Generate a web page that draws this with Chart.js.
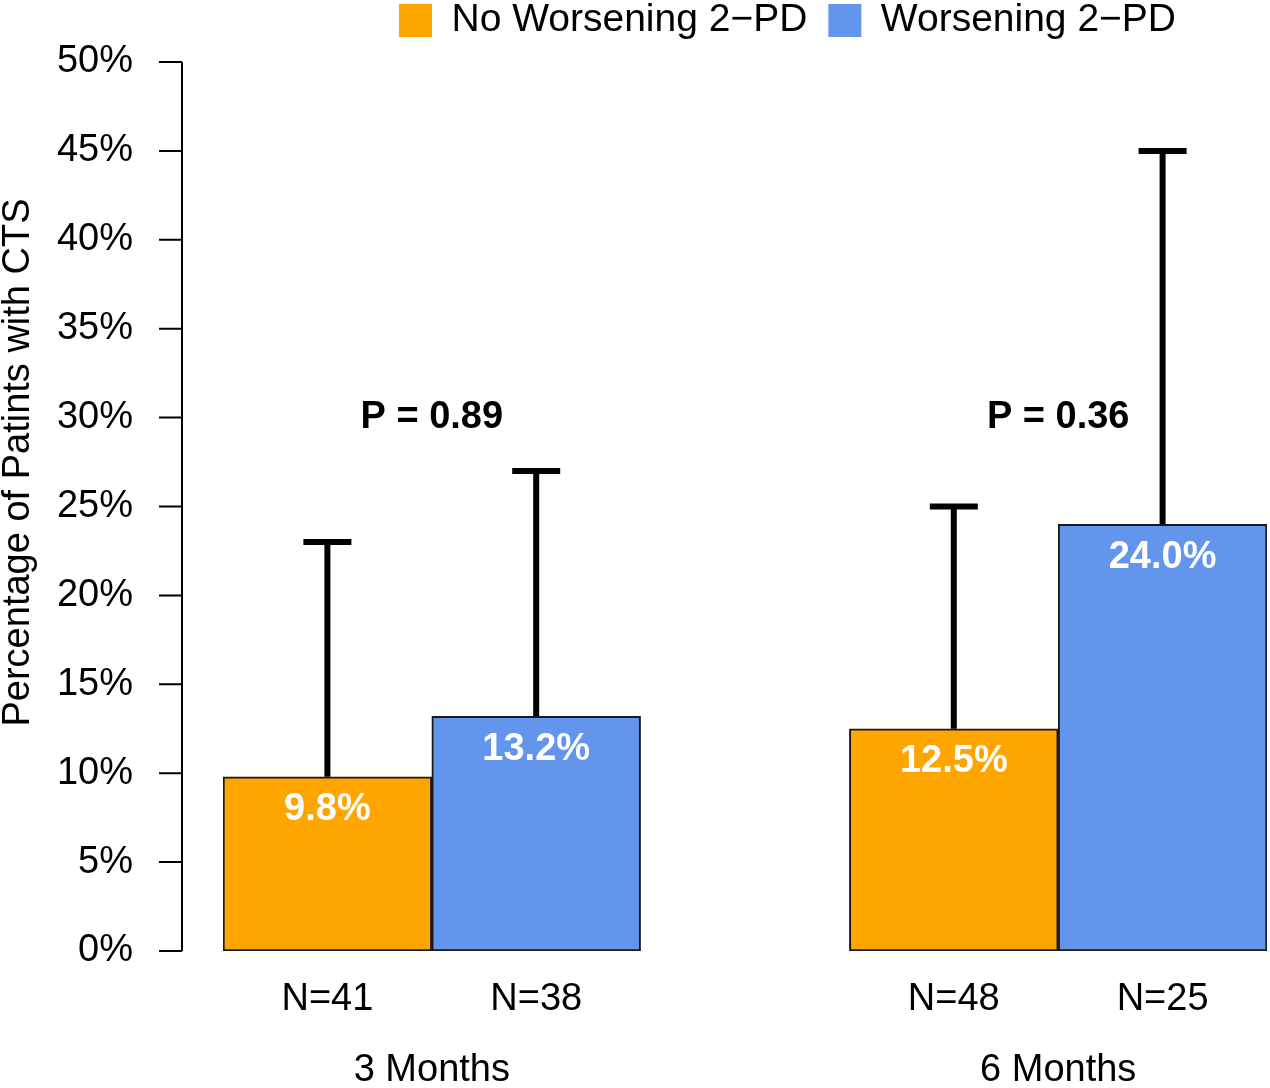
<!DOCTYPE html>
<html>
<head>
<meta charset="utf-8">
<script src="https://cdn.jsdelivr.net/npm/chart.js@4.4.1/dist/chart.umd.min.js"></script>
<style>
  html, body { margin: 0; padding: 0; background: #fff; }
  #wrap { width: 1270px; height: 1088px; }
</style>
</head>
<body>
<div id="wrap"><canvas id="ctsChart"></canvas></div>
<script>
const timepoints = ["3 Months", "6 Months"];
const nLabels = [["N=41", "N=38"], ["N=48", "N=25"]];
const noWorsening = [9.8, 12.5];
const worsening = [13.2, 24.0];
const noWorseningUpper = [23, 25];
const worseningUpper = [27, 45];
const pValues = ["P = 0.89", "P = 0.36"];
const pValueLevel = 30;
const yMax = 50;
const yStep = 5;

const FONT = '"Liberation Sans", Arial, Helvetica, sans-serif';
const ORANGE = "#FFA500";
const BLUE = "#6495ED";
const LEGEND_SHIFT_X = 154;
const LEGEND_SHIFT_Y = -12;

// five slots: two bars, an empty gap, two bars
const slotLabels = [];
const orangeData = [], blueData = [], orangeUpper = [], blueUpper = [];
const groupCenters = [];
timepoints.forEach((t, i) => {
    if (i > 0) {
        slotLabels.push("");
        orangeData.push(null); blueData.push(null);
        orangeUpper.push(null); blueUpper.push(null);
    }
    groupCenters.push(slotLabels.length + 0.5);
    slotLabels.push(nLabels[i][0], nLabels[i][1]);
    orangeData.push(noWorsening[i], null);
    blueData.push(null, worsening[i]);
    orangeUpper.push(noWorseningUpper[i], null);
    blueUpper.push(null, worseningUpper[i]);
});

Chart.defaults.font.family = FONT;
Chart.defaults.font.size = 38;
Chart.defaults.color = "#000";

const overlay = {
    id: "overlay",
    afterLayout(chart) {
        const lg = chart.legend;
        lg.left += LEGEND_SHIFT_X;
        lg.right += LEGEND_SHIFT_X;
        lg.top += LEGEND_SHIFT_Y;
        lg.bottom += LEGEND_SHIFT_Y;
    },
    afterDatasetsDraw(chart) {
        const { ctx, chartArea, scales: { y, x2 } } = chart;
        ctx.save();

        // error bars + value labels
        chart.data.datasets.forEach((ds, di) => {
            const meta = chart.getDatasetMeta(di);
            meta.data.forEach((bar, i) => {
                if (ds.data[i] == null) return;
                const top = y.getPixelForValue(ds.upper[i]);
                ctx.strokeStyle = "#000";
                ctx.lineWidth = 6;
                ctx.lineCap = "butt";
                ctx.beginPath();
                ctx.moveTo(bar.x, bar.y);
                ctx.lineTo(bar.x, top);
                ctx.moveTo(bar.x - 24, top);
                ctx.lineTo(bar.x + 24, top);
                ctx.stroke();

                ctx.fillStyle = "#fff";
                ctx.font = "bold 38px " + FONT;
                ctx.textAlign = "center";
                ctx.textBaseline = "middle";
                ctx.fillText(ds.data[i].toFixed(1) + "%", bar.x, bar.y + 33);
            });
        });

        // p values
        ctx.fillStyle = "#000";
        ctx.font = "bold 38px " + FONT;
        ctx.textAlign = "center";
        ctx.textBaseline = "middle";
        pValues.forEach((p, i) => {
            ctx.fillText(p, x2.getPixelForValue(groupCenters[i]), y.getPixelForValue(pValueLevel));
        });

        // y axis line and ticks, set off from the bars
        const ax = chartArea.left - 41;
        ctx.strokeStyle = "#000";
        ctx.lineWidth = 2;
        ctx.beginPath();
        ctx.moveTo(ax, y.getPixelForValue(0));
        ctx.lineTo(ax, y.getPixelForValue(yMax));
        y.ticks.forEach(t => {
            const py = y.getPixelForValue(t.value);
            ctx.moveTo(ax - 23, py);
            ctx.lineTo(ax, py);
        });
        ctx.stroke();

        // y axis title
        ctx.translate(19, (chartArea.top + chartArea.bottom) / 2 - 44);
        ctx.rotate(-Math.PI / 2);
        ctx.font = "38px " + FONT;
        ctx.fillText("Percentage of Patints with CTS", 0, 0);
        ctx.restore();
    }
};

new Chart(document.getElementById("ctsChart").getContext("2d"), {
    type: "bar",
    data: {
        labels: slotLabels,
        datasets: [
            {
                label: "No Worsening 2\u2212PD",
                data: orangeData,
                upper: orangeUpper,
                backgroundColor: ORANGE,
                borderColor: "#1a1a1a",
                borderWidth: 2,
                borderSkipped: false
            },
            {
                label: "Worsening 2\u2212PD",
                data: blueData,
                upper: blueUpper,
                backgroundColor: BLUE,
                borderColor: "#1a1a1a",
                borderWidth: 2,
                borderSkipped: false
            }
        ]
    },
    options: {
        responsive: true,
        maintainAspectRatio: false,
        animation: false,
        grouped: false,
        barPercentage: 1,
        categoryPercentage: 1,
        layout: { padding: { top: -8, right: 3 } },
        plugins: {
            tooltip: { enabled: false },
            legend: {
                position: "top",
                labels: {
                    boxWidth: 33,
                    boxHeight: 33,
                    padding: 21,
                    font: { size: 39 },
                    generateLabels(chart) {
                        return Chart.defaults.plugins.legend.labels.generateLabels(chart)
                            .map(l => ({ ...l, lineWidth: 0, strokeStyle: l.fillStyle }));
                    }
                }
            }
        },
        scales: {
            x: {
                grid: { display: false, drawTicks: false },
                border: { display: false },
                ticks: { padding: 26, autoSkip: false, maxRotation: 0 },
                afterFit: s => { s.height = 72; }
            },
            x2: {
                type: "linear",
                position: "bottom",
                offset: false,
                min: -0.5,
                max: slotLabels.length - 0.5,
                grid: { display: false, drawTicks: false },
                border: { display: false },
                ticks: {
                    padding: 25,
                    autoSkip: false,
                    maxRotation: 0,
                    callback: (v, i) => timepoints[i]
                },
                afterBuildTicks: s => { s.ticks = groupCenters.map(v => ({ value: v })); },
                afterFit: s => { s.height = 65; }
            },
            y: {
                min: 0,
                max: yMax,
                grid: { display: false, drawTicks: false },
                border: { display: false },
                ticks: { stepSize: yStep, padding: 90, callback: v => v + "%" },
                afterFit: s => {
                    s.width = 223;
                    s.paddingTop = 23;
                    s.paddingBottom = 23;
                }
            }
        }
    },
    plugins: [overlay]
});
</script>
</body>
</html>
